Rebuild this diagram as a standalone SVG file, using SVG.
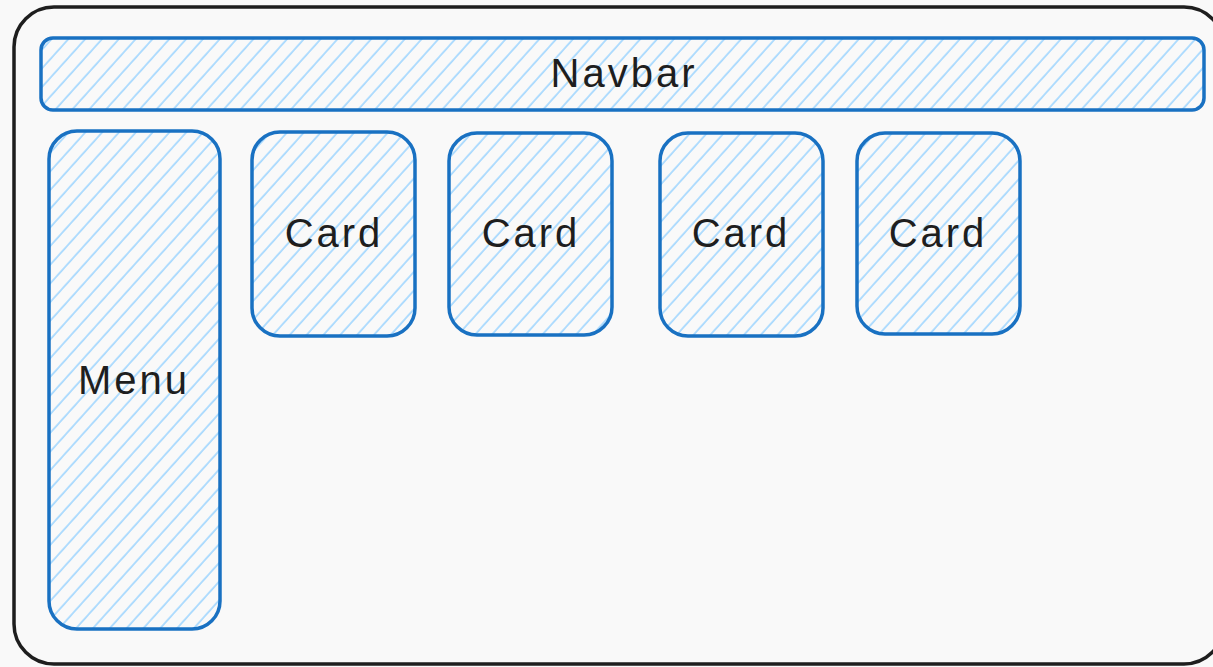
<svg xmlns="http://www.w3.org/2000/svg" width="1213" height="667" viewBox="0 0 1213 667">
  <style>
    .box { fill: url(#hatch); stroke: #1971c2; stroke-width: 3.5; }
    .label { font-family: "Liberation Sans", "DejaVu Sans", sans-serif; font-size: 40px; letter-spacing: 3px; fill: #1e1e1e; text-anchor: middle; dominant-baseline: central; }
  </style>
  <defs>
    <pattern id="hatch" patternUnits="userSpaceOnUse" width="12.5" height="12.5" patternTransform="rotate(42)">
      <rect width="12.5" height="12.5" fill="#f9f9f9"/>
      <line x1="2" y1="0" x2="2" y2="12.5" stroke="#a5d8ff" stroke-width="1.7"/>
    </pattern>
  </defs>
  <rect width="1213" height="667" fill="#f9f9f9"/>
  <g id="frame">
    <rect x="14" y="7" width="1210" height="657" rx="40" fill="#f9f9f9" stroke="#1e1e1e" stroke-width="3.5"/>
  </g>
  <g id="navbar">
    <rect class="box" x="41" y="38" width="1163" height="72" rx="12"/>
    <text class="label" x="624" y="73">Navbar</text>
  </g>
  <g id="menu">
    <rect class="box" x="49" y="131" width="171" height="498" rx="28"/>
    <text class="label" x="134" y="380">Menu</text>
  </g>
  <g id="card1">
    <rect class="box" x="252" y="132" width="163" height="204" rx="28"/>
    <text class="label" x="334" y="233">Card</text>
  </g>
  <g id="card2">
    <rect class="box" x="449" y="133" width="163" height="202" rx="28"/>
    <text class="label" x="531" y="233">Card</text>
  </g>
  <g id="card3">
    <rect class="box" x="660" y="133" width="163" height="203" rx="28"/>
    <text class="label" x="741" y="233">Card</text>
  </g>
  <g id="card4">
    <rect class="box" x="857" y="133" width="163" height="201" rx="28"/>
    <text class="label" x="938" y="233">Card</text>
  </g>
  <g id="connectors"></g>
</svg>
